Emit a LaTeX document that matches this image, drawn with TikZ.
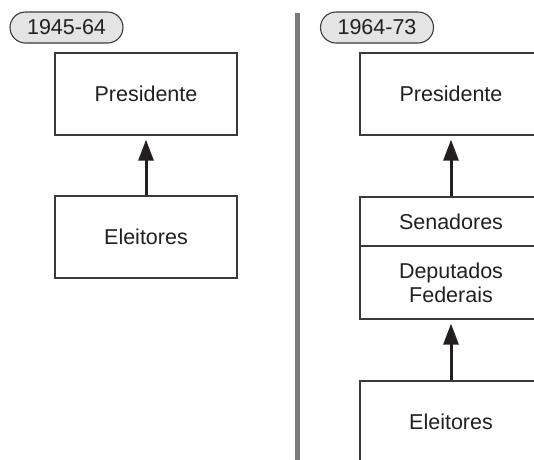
\documentclass[tikz,border=0pt]{standalone}
\usepackage{fontspec}
\setmainfont{Liberation Sans}
\usetikzlibrary{arrows.meta,shapes.misc}
\definecolor{ink}{HTML}{231F20}
\definecolor{boxline}{HTML}{3A3A3A}
\definecolor{pillfill}{HTML}{E4E4E4}
\definecolor{divider}{HTML}{7A7A7A}
\begin{document}
\begin{tikzpicture}[x=1pt,y=-1pt,
  every node/.style={font=\fontsize{21.5}{24}\selectfont, text=ink},
  orgbox/.style={draw=boxline, line width=1.3pt, rectangle, minimum width=182pt, inner sep=0pt, align=center},
  pill/.style={draw=boxline, line width=1.1pt, fill=pillfill, rounded rectangle, minimum width=113pt, minimum height=31pt, inner sep=0pt},
  uparrow/.style={draw=ink, line width=3pt, -{Triangle[length=21pt,width=15pt]}, shorten >=4pt}
]
\useasboundingbox (0,0) rectangle (534,459);
\clip (0,0) rectangle (534,459);
% divider
\draw[divider, line width=5pt] (297.5,13) -- (297.5,470);
% left column
\node[pill] (lab1) at (66.5,27.5) {1945-64};
\node[orgbox, minimum height=82pt] (pres1) at (146,94) {Presidente};
\node[orgbox, minimum height=82pt] (ele1) at (146,237) {Eleitores};
\draw[uparrow] (ele1.north) -- (pres1.south);
% right column
\node[pill] (lab2) at (377,27.5) {1964-73};
\node[orgbox, minimum height=82pt] (pres2) at (451,94) {Presidente};
\node[orgbox, minimum height=49pt] (sen) at (451,221.5) {Senadores};
\node[orgbox, minimum height=73pt] (dep) at (451,282.5) {Deputados\\Federais};
\node[orgbox, minimum height=82pt] (ele2) at (451,422) {Eleitores};
\draw[uparrow] (sen.north) -- (pres2.south);
\draw[uparrow] (ele2.north) -- (dep.south);
\end{tikzpicture}
\end{document}
